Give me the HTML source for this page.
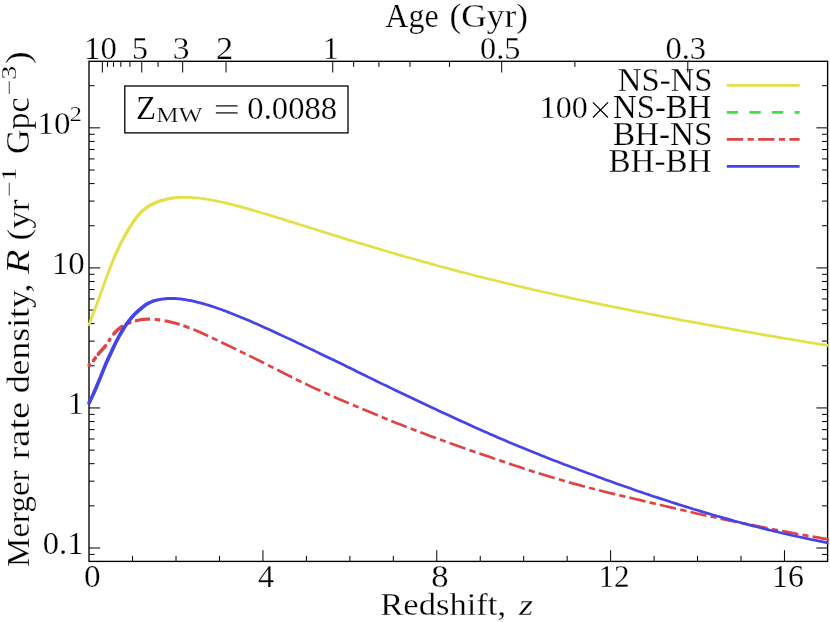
<!DOCTYPE html><html><head><meta charset="utf-8"><title>Merger rate density</title>
<style>html,body{margin:0;padding:0;background:#fff}svg{display:block}text{font-family:'Liberation Serif', serif;fill:#000}</style></head><body>
<svg width="830" height="622" viewBox="0 0 830 622">
<rect width="830" height="622" fill="#fff"/>
<defs><clipPath id="cp"><rect x="87.0" y="61.3" width="742.3" height="500.1"/></clipPath></defs>
<g style="will-change:opacity;opacity:0.999" stroke="#fff" stroke-width="0.25" stroke-linejoin="round">
<text transform="translate(380.33,615.00) scale(1.0699,1)" style="font-family:'Liberation Serif', serif;font-size:32.30px;">Redshift,</text>
<text transform="translate(518.92,615.20) scale(1.2636,1)" style="font-family:'Liberation Serif', serif;font-size:28.80px;font-style:italic;">z</text>
<text transform="translate(385.36,27.00) scale(0.9630,1)" style="font-family:'Liberation Serif', serif;font-size:33.20px;">Age</text>
<text transform="translate(449.50,27.00) scale(1.0643,1)" style="font-family:'Liberation Serif', serif;font-size:33.20px;">(Gyr)</text>
<text transform="translate(84.10,58.80) scale(1.0195,1)" style="font-family:'Liberation Serif', serif;font-size:32.20px;">10</text>
<text transform="translate(131.96,58.80) scale(0.9923,1)" style="font-family:'Liberation Serif', serif;font-size:32.20px;">5</text>
<text transform="translate(172.64,58.80) scale(1.0415,1)" style="font-family:'Liberation Serif', serif;font-size:32.20px;">3</text>
<text transform="translate(216.00,58.80) scale(1.0667,1)" style="font-family:'Liberation Serif', serif;font-size:32.20px;">2</text>
<text transform="translate(322.63,58.80) scale(1.0087,1)" style="font-family:'Liberation Serif', serif;font-size:32.20px;">1</text>
<text transform="translate(480.05,58.80) scale(1.0040,1)" style="font-family:'Liberation Serif', serif;font-size:32.20px;">0.5</text>
<text transform="translate(665.44,58.80) scale(1.0093,1)" style="font-family:'Liberation Serif', serif;font-size:32.20px;">0.3</text>
<text transform="translate(84.01,587.30) scale(1.0327,1)" style="font-family:'Liberation Serif', serif;font-size:32.20px;">0</text>
<text transform="translate(257.90,587.30) scale(1.0000,1)" style="font-family:'Liberation Serif', serif;font-size:32.20px;">4</text>
<text transform="translate(431.15,587.30) scale(1.0764,1)" style="font-family:'Liberation Serif', serif;font-size:32.20px;">8</text>
<text transform="translate(598.54,587.30) scale(0.9658,1)" style="font-family:'Liberation Serif', serif;font-size:32.20px;">12</text>
<text transform="translate(771.98,587.30) scale(0.9895,1)" style="font-family:'Liberation Serif', serif;font-size:32.20px;">16</text>
<text transform="translate(37.38,134.40) scale(1.0265,1)" style="font-family:'Liberation Serif', serif;font-size:32.20px;">10</text>
<text transform="translate(69.87,120.60) scale(1.1294,1)" style="font-family:'Liberation Serif', serif;font-size:21.57px;">2</text>
<text transform="translate(51.69,274.20) scale(1.0230,1)" style="font-family:'Liberation Serif', serif;font-size:32.20px;">10</text>
<text transform="translate(68.05,414.10) scale(0.9652,1)" style="font-family:'Liberation Serif', serif;font-size:32.20px;">1</text>
<text transform="translate(42.73,554.10) scale(1.0135,1)" style="font-family:'Liberation Serif', serif;font-size:32.20px;">0.1</text>
<text transform="translate(617.71,91.30) scale(0.9887,1)" style="font-family:'Liberation Serif', serif;font-size:33.20px;">NS-NS</text>
<text transform="translate(539.77,117.80) scale(0.9944,1)" style="font-family:'Liberation Serif', serif;font-size:32.20px;">100</text>
<path d="M592.9,102.4L608.0,117.5M608.0,102.4L592.9,117.5" stroke="#000" stroke-width="1.25" fill="none"/>
<text transform="translate(613.01,117.80) scale(0.9882,1)" style="font-family:'Liberation Serif', serif;font-size:33.20px;">NS-BH</text>
<text transform="translate(612.90,144.80) scale(1.0000,1)" style="font-family:'Liberation Serif', serif;font-size:33.20px;">BH-NS</text>
<text transform="translate(608.50,172.00) scale(0.9985,1)" style="font-family:'Liberation Serif', serif;font-size:33.20px;">BH-BH</text>
<text transform="translate(136.12,118.60) scale(0.9882,1)" style="font-family:'Liberation Serif', serif;font-size:33.20px;">Z</text>
<text transform="translate(156.32,121.90) scale(1.1519,1)" style="font-family:'Liberation Serif', serif;font-size:21.80px;">MW</text>
<text transform="translate(213.40,121.10) scale(1.4258,1)" style="font-family:'Liberation Serif', serif;font-size:33.20px;">=</text>
<text transform="translate(247.33,118.60) scale(1.0151,1)" style="font-family:'Liberation Serif', serif;font-size:32.20px;">0.0088</text>
<text transform="translate(28.70,566.92) rotate(-90) scale(1.0209,1)" style="font-family:'Liberation Serif', serif;font-size:32.30px;">Merger</text>
<text transform="translate(28.70,459.39) rotate(-90) scale(1.1872,1)" style="font-family:'Liberation Serif', serif;font-size:32.30px;">rate</text>
<text transform="translate(28.70,393.28) rotate(-90) scale(1.1052,1)" style="font-family:'Liberation Serif', serif;font-size:32.30px;">density,</text>
<text transform="translate(28.70,273.90) rotate(-90) scale(1.2150,1)" style="font-family:'Liberation Serif', serif;font-size:33.20px;font-style:italic;">R</text>
<text transform="translate(28.70,240.54) rotate(-90) scale(1.0937,1)" style="font-family:'Liberation Serif', serif;font-size:32.30px;">(yr</text>
<text transform="translate(16.00,196.81) rotate(-90) scale(1.3050,1)" style="font-family:'Liberation Serif', serif;font-size:21.00px;">−1</text>
<text transform="translate(28.70,153.88) rotate(-90) scale(1.0208,1)" style="font-family:'Liberation Serif', serif;font-size:33.20px;">Gpc</text>
<text transform="translate(16.00,95.54) rotate(-90) scale(1.3415,1)" style="font-family:'Liberation Serif', serif;font-size:21.00px;">−3</text>
<text transform="translate(28.70,64.05) rotate(-90) scale(1.1529,1)" style="font-family:'Liberation Serif', serif;font-size:33.20px;">)</text>
</g>
<g fill="none" stroke-width="2.7">
<path d="M726.8,85.4H799.6" stroke="#e4e04a"/>
<path d="M726.8,112.4H799.6" stroke="#40e040" stroke-dasharray="11.3 11.3"/>
<path d="M726.8,139.3H799.6" stroke="#e04444" stroke-dasharray="16.4 4.4 6.2 4.3"/>
<path d="M726.8,166.4H799.6" stroke="#4444e8"/>
</g>
<path d="M89.0,554.41h5.6M827.6,554.41h-5.6M89.0,548.00h11.2M827.6,548.00h-11.2M89.0,505.84h5.6M827.6,505.84h-5.6M89.0,481.18h5.6M827.6,481.18h-5.6M89.0,463.68h5.6M827.6,463.68h-5.6M89.0,450.11h5.6M827.6,450.11h-5.6M89.0,439.02h5.6M827.6,439.02h-5.6M89.0,429.64h5.6M827.6,429.64h-5.6M89.0,421.52h5.6M827.6,421.52h-5.6M89.0,414.36h5.6M827.6,414.36h-5.6M89.0,407.95h11.2M827.6,407.95h-11.2M89.0,365.79h5.6M827.6,365.79h-5.6M89.0,341.13h5.6M827.6,341.13h-5.6M89.0,323.63h5.6M827.6,323.63h-5.6M89.0,310.06h5.6M827.6,310.06h-5.6M89.0,298.97h5.6M827.6,298.97h-5.6M89.0,289.59h5.6M827.6,289.59h-5.6M89.0,281.47h5.6M827.6,281.47h-5.6M89.0,274.31h5.6M827.6,274.31h-5.6M89.0,267.90h11.2M827.6,267.90h-11.2M89.0,225.74h5.6M827.6,225.74h-5.6M89.0,201.08h5.6M827.6,201.08h-5.6M89.0,183.58h5.6M827.6,183.58h-5.6M89.0,170.01h5.6M827.6,170.01h-5.6M89.0,158.92h5.6M827.6,158.92h-5.6M89.0,149.54h5.6M827.6,149.54h-5.6M89.0,141.42h5.6M827.6,141.42h-5.6M89.0,134.26h5.6M827.6,134.26h-5.6M89.0,127.85h11.2M827.6,127.85h-11.2M89.0,85.69h5.6M827.6,85.69h-5.6M132.56,561.4v-5.6M176.02,561.4v-5.6M219.48,561.4v-5.6M262.94,561.4v-11.2M306.40,561.4v-5.6M349.86,561.4v-5.6M393.32,561.4v-5.6M436.78,561.4v-11.2M480.24,561.4v-5.6M523.70,561.4v-5.6M567.16,561.4v-5.6M610.62,561.4v-11.2M654.08,561.4v-5.6M697.54,561.4v-5.6M741.00,561.4v-5.6M784.46,561.4v-11.2M102.37,61.3v11.2M107.49,61.3v5.6M113.54,61.3v5.6M120.83,61.3v5.6M129.93,61.3v5.6M141.75,61.3v11.2M158.06,61.3v5.6M182.68,61.3v11.2M226.02,61.3v11.2M332.74,61.3v11.2M353.68,61.3v5.6M378.90,61.3v5.6M409.97,61.3v5.6M449.45,61.3v5.6M501.69,61.3v11.2M574.88,61.3v5.6M687.80,61.3v11.2" fill="none" stroke="#000" stroke-width="1.00"/>
<rect x="89.0" y="61.3" width="738.6" height="500.1" fill="none" stroke="#000" stroke-width="1.35"/>
<g clip-path="url(#cp)" fill="none" stroke-width="2.7" stroke-linejoin="round">
<path d="M90.4,325.0 L91.4,322.4 L92.4,319.8 L93.4,317.1 L94.4,314.5 L95.4,311.9 L96.4,309.2 L97.4,306.6 L98.4,303.9 L99.4,301.2 L100.4,298.5 L101.4,295.8 L102.4,293.0 L103.4,290.2 L104.4,287.4 L105.4,284.6 L106.4,281.8 L107.4,279.0 L108.4,276.3 L109.4,273.5 L110.4,270.9 L111.4,268.2 L112.5,265.7 L113.5,263.2 L114.5,260.7 L115.5,258.4 L116.5,256.1 L117.5,253.8 L118.5,251.7 L119.5,249.6 L120.5,247.5 L121.5,245.5 L122.5,243.5 L123.5,241.6 L124.5,239.7 L125.5,237.9 L126.5,236.1 L127.5,234.4 L128.5,232.7 L129.5,231.0 L130.5,229.3 L131.5,227.7 L132.5,226.1 L133.5,224.6 L134.5,223.1 L135.5,221.7 L136.5,220.4 L137.5,219.1 L138.5,217.8 L139.4,216.7 L140.4,215.6 L141.4,214.5 L142.3,213.6 L143.3,212.6 L144.3,211.8 L145.2,211.0 L146.2,210.2 L147.1,209.4 L148.1,208.8 L149.1,208.1 L150.0,207.5 L151.0,206.9 L151.9,206.4 L152.9,205.9 L153.9,205.4 L154.8,204.9 L155.8,204.5 L156.8,204.1 L157.7,203.7 L158.7,203.3 L159.7,203.0 L160.6,202.6 L161.6,202.3 L162.6,202.0 L163.6,201.7 L164.5,201.4 L165.5,201.1 L166.5,200.9 L167.4,200.6 L168.4,200.4 L169.4,200.2 L170.4,200.0 L171.3,199.9 L172.3,199.7 L173.3,199.5 L174.3,199.4 L175.3,199.3 L176.2,199.2 L177.2,199.1 L178.2,199.0 L179.2,198.9 L180.2,198.8 L181.2,198.8 L182.1,198.8 L183.1,198.7 L184.1,198.7 L185.1,198.7 L186.1,198.7 L187.1,198.7 L188.1,198.8 L189.0,198.8 L190.0,198.8 L191.0,198.9 L192.0,198.9 L193.0,199.0 L194.0,199.1 L195.0,199.1 L196.0,199.2 L197.0,199.3 L198.0,199.4 L198.9,199.5 L199.9,199.6 L200.9,199.8 L201.9,199.9 L202.9,200.0 L203.9,200.2 L204.9,200.3 L205.9,200.5 L206.9,200.6 L207.9,200.8 L208.9,200.9 L209.9,201.1 L210.9,201.3 L211.9,201.5 L212.8,201.7 L213.8,201.9 L214.8,202.0 L215.8,202.2 L216.8,202.4 L217.8,202.7 L218.8,202.9 L219.8,203.1 L220.8,203.3 L221.8,203.5 L222.8,203.7 L223.8,204.0 L224.8,204.2 L225.8,204.4 L226.8,204.7 L227.8,204.9 L228.8,205.1 L229.4,202.5 L228.4,202.3 L227.4,202.0 L226.4,201.8 L225.4,201.6 L224.4,201.3 L223.4,201.1 L222.4,200.9 L221.4,200.7 L220.4,200.4 L219.4,200.2 L218.4,200.0 L217.4,199.8 L216.4,199.6 L215.4,199.4 L214.4,199.2 L213.4,199.0 L212.3,198.8 L211.3,198.6 L210.3,198.5 L209.3,198.3 L208.3,198.1 L207.3,198.0 L206.3,197.8 L205.3,197.6 L204.3,197.5 L203.3,197.3 L202.3,197.2 L201.3,197.1 L200.3,197.0 L199.3,196.8 L198.2,196.7 L197.2,196.6 L196.2,196.5 L195.2,196.4 L194.2,196.3 L193.2,196.2 L192.2,196.2 L191.2,196.1 L190.2,196.0 L189.2,196.0 L188.1,195.9 L187.1,195.9 L186.1,195.9 L185.1,195.9 L184.1,195.9 L183.1,195.9 L182.1,195.9 L181.0,195.9 L180.0,196.0 L179.0,196.0 L178.0,196.0 L177.0,196.1 L176.0,196.2 L174.9,196.3 L173.9,196.4 L172.9,196.5 L171.9,196.6 L170.9,196.8 L169.8,196.9 L168.8,197.1 L167.8,197.3 L166.8,197.5 L165.7,197.7 L164.7,197.9 L163.7,198.2 L162.6,198.4 L161.6,198.7 L160.6,199.0 L159.6,199.3 L158.5,199.7 L157.5,200.0 L156.5,200.4 L155.4,200.8 L154.4,201.3 L153.4,201.8 L152.3,202.2 L151.3,202.8 L150.3,203.3 L149.2,203.9 L148.2,204.5 L147.1,205.2 L146.1,205.9 L145.1,206.6 L144.0,207.4 L143.0,208.3 L141.9,209.1 L140.9,210.1 L139.9,211.1 L138.8,212.1 L137.8,213.2 L136.8,214.4 L135.7,215.6 L134.7,216.9 L133.7,218.3 L132.7,219.7 L131.7,221.2 L130.7,222.7 L129.7,224.3 L128.7,225.9 L127.7,227.6 L126.7,229.3 L125.7,231.0 L124.7,232.7 L123.7,234.5 L122.7,236.3 L121.7,238.2 L120.7,240.1 L119.7,242.1 L118.7,244.1 L117.7,246.1 L116.7,248.2 L115.7,250.4 L114.7,252.6 L113.7,254.9 L112.7,257.2 L111.7,259.6 L110.7,262.1 L109.7,264.6 L108.8,267.2 L107.8,269.9 L106.8,272.6 L105.8,275.3 L104.8,278.1 L103.8,280.9 L102.8,283.7 L101.8,286.5 L100.8,289.3 L99.8,292.1 L98.8,294.8 L97.8,297.6 L96.8,300.3 L95.8,303.0 L94.8,305.6 L93.8,308.3 L92.8,310.9 L91.8,313.6 L90.8,316.2 L89.8,318.8 L88.8,321.4 L87.8,324.0Z" fill="#e4e04a" stroke="none"/>
<circle cx="89.1" cy="324.5" r="1.55" fill="#e4e04a"/>
<path d="M228.0,203.6 L231.6,204.4 L235.3,205.4 L239.0,206.4 L242.7,207.4 L246.4,208.4 L250.1,209.4 L253.8,210.5 L257.5,211.6 L261.2,212.7 L264.9,213.8 L268.6,214.9 L272.3,216.0 L276.0,217.1 L279.7,218.3 L283.3,219.4 L287.0,220.6 L290.7,221.7 L294.4,222.9 L298.1,224.0 L301.8,225.2 L305.5,226.4 L309.2,227.5 L312.9,228.7 L316.6,229.8 L320.3,231.0 L324.0,232.2 L327.7,233.3 L331.4,234.5 L335.1,235.6 L338.8,236.8 L342.5,237.9 L346.2,239.1 L349.9,240.2 L353.6,241.3 L357.3,242.5 L361.0,243.6 L364.7,244.7 L368.4,245.8 L372.1,246.9 L375.8,248.0 L379.5,249.1 L383.2,250.2 L386.9,251.3 L390.6,252.4 L394.3,253.5 L398.0,254.6 L401.7,255.6 L405.4,256.7 L409.1,257.7 L412.8,258.8 L416.5,259.8 L420.2,260.9 L423.9,261.9 L427.6,262.9 L431.3,263.9 L435.0,265.0 L438.6,266.0 L442.3,267.0 L446.0,268.0 L449.7,268.9 L453.4,269.9 L457.1,270.9 L460.8,271.9 L464.5,272.8 L468.2,273.8 L471.9,274.7 L475.6,275.7 L479.3,276.6 L483.0,277.6 L486.7,278.5 L490.4,279.4 L494.1,280.3 L497.8,281.2 L501.5,282.1 L505.2,283.0 L508.9,283.9 L512.6,284.8 L516.3,285.7 L520.0,286.5 L523.7,287.4 L527.4,288.3 L531.1,289.1 L534.8,290.0 L538.5,290.8 L542.2,291.7 L545.9,292.5 L549.6,293.3 L553.3,294.1 L557.0,295.0 L560.7,295.8 L564.4,296.6 L568.1,297.4 L571.8,298.2 L575.5,299.0 L579.2,299.8 L582.9,300.5 L586.6,301.3 L590.3,302.1 L593.9,302.9 L597.6,303.6 L601.3,304.4 L605.0,305.2 L608.7,305.9 L612.4,306.7 L616.1,307.4 L619.8,308.1 L623.5,308.9 L627.2,309.6 L630.9,310.4 L634.6,311.1 L638.3,311.8 L642.0,312.5 L645.7,313.3 L649.4,314.0 L653.1,314.7 L656.8,315.4 L660.5,316.1 L664.2,316.8 L667.9,317.5 L671.6,318.2 L675.3,318.9 L679.0,319.6 L682.7,320.3 L686.4,321.0 L690.1,321.6 L693.8,322.3 L697.5,323.0 L701.2,323.7 L704.9,324.4 L708.6,325.0 L712.3,325.7 L716.0,326.4 L719.7,327.0 L723.4,327.7 L727.1,328.3 L730.8,329.0 L734.5,329.7 L738.2,330.3 L741.9,331.0 L745.6,331.6 L749.2,332.2 L752.9,332.9 L756.6,333.5 L760.3,334.2 L764.0,334.8 L767.7,335.4 L771.4,336.1 L775.1,336.7 L778.8,337.3 L782.5,338.0 L786.2,338.6 L789.9,339.2 L793.6,339.8 L797.3,340.4 L801.0,341.1 L804.7,341.7 L808.4,342.3 L812.1,342.9 L815.8,343.5 L819.5,344.1 L823.2,344.7 L826.9,345.3 L828.5,345.6" stroke="#e4e04a"/>
<circle cx="89.3" cy="365.0" r="2.0" fill="#e04444"/>
<path d="M93.5,360.4 L93.9,359.8 L94.4,359.2 L94.9,358.5 L95.3,357.9" stroke="#e04444" stroke-width="3.60" stroke-linecap="round"/>
<path d="M98.3,354.1 L98.8,353.5 L99.3,352.9 L99.8,352.3 L100.3,351.8 L100.8,351.2 L101.3,350.7 L101.8,350.1 L102.3,349.6 L102.8,349.0 L103.3,348.4 L103.8,347.9 L104.3,347.3 L104.8,346.7 L105.2,346.1 L105.5,345.8" stroke="#e04444" stroke-width="3.60" stroke-linecap="round"/>
<path d="M109.2,340.4 L109.7,339.7 L109.8,339.5" stroke="#e04444" stroke-width="3.60" stroke-linecap="round"/>
<path d="M113.8,333.9 L114.2,333.4 L114.7,332.8 L115.2,332.2 L115.7,331.7 L116.2,331.2 L116.7,330.7 L117.2,330.3 L117.7,329.8 L118.2,329.4 L118.7,329.0 L119.2,328.6 L119.7,328.2 L120.2,327.8 L120.7,327.5 L121.1,327.1 L121.6,326.8 L121.9,326.6" stroke="#e04444" stroke-width="3.60" stroke-linecap="round"/>
<path d="M129.2,323.0 L129.7,322.8 L130.0,322.7" stroke="#e04444" stroke-width="3.48" stroke-linecap="round"/>
<path d="M135.0,321.0 L135.4,320.9 L135.9,320.8 L136.4,320.7 L136.9,320.5 L137.4,320.4 L137.9,320.3 L138.4,320.2 L138.9,320.1 L139.4,320.0 L139.9,319.9 L140.4,319.8 L140.9,319.7 L141.4,319.6 L141.9,319.6 L142.3,319.5 L142.8,319.5 L143.3,319.4 L143.8,319.4 L144.3,319.3 L144.8,319.3 L145.3,319.3 L145.8,319.2 L146.3,319.2 L146.8,319.2 L147.3,319.2 L147.8,319.2 L148.3,319.2 L148.8,319.2 L149.2,319.2 L149.7,319.2 L150.1,319.2" stroke="#e04444" stroke-width="3.19"/>
<path d="M154.7,319.4 L155.2,319.4 L155.7,319.5 L156.2,319.5 L156.6,319.6 L157.1,319.6 L157.6,319.7 L158.1,319.7 L158.6,319.8 L159.1,319.9 L159.6,319.9 L160.1,320.0 L160.2,320.0" stroke="#e04444" stroke-width="3.11"/>
<path d="M164.6,320.7 L165.0,320.8 L165.5,320.9 L166.0,321.0 L166.5,321.1 L167.0,321.2 L167.5,321.3 L168.0,321.4 L168.5,321.5 L169.0,321.6 L169.5,321.7 L170.0,321.8 L170.4,321.9 L170.9,322.1 L171.4,322.2 L171.9,322.3 L172.4,322.4 L172.9,322.6 L173.4,322.7 L173.9,322.8 L174.4,323.0 L174.9,323.1 L175.4,323.2 L175.9,323.4 L176.4,323.5 L176.9,323.7 L177.3,323.8 L177.8,323.9 L178.3,324.1 L178.8,324.2 L179.3,324.4 L179.7,324.5" stroke="#e04444" stroke-width="3.02"/>
<path d="M183.4,325.7 L183.9,325.9 L184.4,326.1 L184.9,326.2 L185.4,326.4 L185.9,326.6 L186.3,326.8 L186.8,326.9 L187.3,327.1 L187.8,327.3 L188.3,327.5 L188.8,327.7 L189.3,327.9 L189.5,327.9" stroke="#e04444" stroke-width="2.92"/>
<path d="M193.5,329.5 L194.5,329.9 L195.5,330.3 L196.5,330.7 L197.4,331.1 L198.4,331.6 L199.4,332.0 L200.4,332.4 L201.4,332.9 L202.4,333.3 L203.4,333.8 L204.3,334.2 L205.3,334.6 L206.3,335.1 L207.3,335.6 L208.2,336.0" stroke="#e04444" stroke-width="2.81"/>
<path d="M212.0,337.8 L216.9,340.1 L217.5,340.4M221.2,342.2 L226.0,344.5 L231.0,346.9 L235.9,349.3 L236.1,349.4M239.9,351.2 L244.8,353.6 L245.5,353.9M249.2,355.7 L254.0,358.1 L258.9,360.5 L263.9,363.0 L264.1,363.1M267.9,365.1 L272.7,367.5 L273.5,367.9M277.2,369.8 L282.1,372.3 L287.0,374.8 L292.0,377.3 L292.1,377.3M295.9,379.2 L300.7,381.6 L301.5,382.0M305.2,383.7 L310.1,386.1 L315.0,388.4 L320.0,390.6 L320.3,390.8M324.2,392.6 L329.1,394.7 L329.9,395.1M333.7,396.8 L338.6,398.9 L343.5,401.0 L348.4,403.1 L348.9,403.3M352.9,405.0 L357.8,407.0 L358.6,407.3M362.4,408.9 L367.3,411.0 L372.2,413.1 L377.1,415.1 L377.8,415.4M381.7,417.0 L386.6,419.0 L387.5,419.4M391.3,420.9 L396.1,422.9 L401.1,424.8 L406.0,426.7 L406.7,427.0M410.7,428.5 L415.6,430.4 L416.5,430.7M420.3,432.2 L425.2,434.0 L430.1,435.9 L435.1,437.7 L435.9,438.0M439.9,439.5 L444.7,441.2 L445.7,441.6M449.6,443.1 L454.4,444.8 L459.4,446.6 L464.3,448.3 L465.4,448.7M469.5,450.1 L474.4,451.8 L475.5,452.2M479.4,453.5 L484.3,455.1 L489.2,456.8 L494.1,458.5 L495.1,458.8M499.2,460.2 L504.1,461.9 L505.1,462.3M509.0,463.6 L513.8,465.2 L518.8,466.8 L523.7,468.5 L524.8,468.8M528.8,470.1 L533.7,471.7 L534.8,472.0M538.7,473.2 L543.5,474.7 L548.5,476.3 L553.4,477.7 L554.7,478.1M558.8,479.3 L563.6,480.7 L564.8,481.1M568.8,482.2 L573.6,483.6 L578.5,484.9 L583.5,486.2 L584.9,486.6M589.0,487.7 L593.8,489.0 L595.0,489.3M599.0,490.3 L603.8,491.5 L608.7,492.7 L613.7,493.9 L615.2,494.3M619.3,495.2 L624.1,496.4 L625.4,496.7M629.4,497.6 L634.3,498.7 L639.2,499.9 L644.1,501.1 L645.6,501.4M649.7,502.4 L654.6,503.6 L655.8,503.9M659.8,504.8 L664.7,506.0 L669.6,507.1 L674.6,508.3 L676.1,508.6M680.3,509.6 L685.2,510.7 L686.5,511.1M690.5,512.0 L695.4,513.2 L700.3,514.3 L705.2,515.4 L706.4,515.6M710.5,516.5 L715.4,517.5 L716.6,517.8M720.5,518.6 L725.3,519.6 L730.3,520.6 L735.2,521.7 L736.8,522.0M741.0,522.9 L745.9,523.9 L747.2,524.1M751.2,524.9 L756.0,525.9 L761.0,526.9 L765.9,527.9 L767.6,528.2M771.8,529.0 L776.7,530.0 L778.1,530.2M782.1,531.0 L787.0,531.9 L791.9,532.8 L796.8,533.8 L798.3,534.0M802.5,534.8 L807.3,535.7 L808.6,535.9M812.6,536.6 L817.4,537.4 L822.3,538.3 L827.3,539.2 L828.9,539.4" stroke="#e04444"/>
<path d="M90.7,403.8 L91.7,401.7 L92.7,399.6 L93.7,397.5 L94.7,395.2 L95.8,393.0 L96.8,390.7 L97.8,388.4 L98.8,386.0 L99.8,383.6 L100.8,381.2 L101.8,378.7 L102.8,376.3 L103.8,373.7 L104.8,371.2 L105.8,368.8 L106.8,366.4 L107.8,364.1 L108.8,361.8 L109.8,359.7 L110.8,357.5 L111.8,355.4 L112.8,353.2 L113.8,351.0 L114.8,348.9 L115.8,346.8 L116.7,344.8 L117.7,342.8 L118.7,340.9 L119.7,339.0 L120.7,337.1 L121.7,335.4 L122.7,333.7 L123.7,332.0 L124.7,330.4 L125.7,328.8 L126.6,327.3 L127.6,325.8 L128.6,324.4 L129.6,323.1 L130.6,321.8 L131.5,320.6 L132.5,319.4 L133.5,318.2 L134.5,317.2 L135.4,316.1 L136.4,315.1 L137.4,314.2 L138.4,313.3 L139.3,312.4 L140.3,311.5 L141.3,310.7 L142.3,309.9 L143.3,309.1 L144.2,308.3 L145.2,307.5 L146.2,306.8 L147.1,306.1 L148.0,305.5 L149.0,305.0 L149.9,304.5 L150.8,304.0 L151.8,303.6 L152.7,303.1 L153.6,302.8 L154.6,302.5 L155.5,302.1 L156.5,301.9 L157.5,301.6 L158.4,301.4 L159.4,301.1 L160.4,300.9 L161.3,300.8 L162.3,300.6 L163.3,300.5 L164.3,300.4 L165.2,300.3 L166.2,300.2 L167.2,300.1 L168.2,300.0 L169.2,300.0 L170.1,300.0 L171.1,299.9 L172.1,299.9 L173.1,300.0 L174.0,300.0 L175.0,300.0 L176.0,300.1 L177.0,300.1 L178.0,300.2 L179.0,300.3 L179.9,300.4 L180.9,300.5 L181.9,300.6 L182.9,300.8 L183.9,300.9 L184.9,301.0 L185.9,301.2 L186.9,301.4 L187.8,301.5 L188.8,301.7 L189.8,301.9 L190.8,302.1 L191.8,302.3 L192.8,302.5 L193.8,302.7 L194.8,303.0 L195.8,303.2 L196.8,303.4 L197.8,303.7 L198.7,303.9 L199.7,304.2 L200.7,304.5 L201.7,304.7 L202.7,305.0 L203.7,305.3 L204.7,305.6 L205.7,305.9 L206.7,306.1 L207.7,306.4 L208.7,306.8 L209.7,307.1 L210.7,307.4 L211.7,307.7 L212.7,308.0 L213.7,308.3 L214.7,308.7 L215.7,309.0 L216.7,309.4 L217.7,309.7 L218.7,310.1 L219.6,310.4 L220.6,310.8 L221.6,311.1 L222.6,311.5 L223.6,311.9 L224.6,312.2 L225.6,312.6 L226.6,313.0 L227.6,313.4 L228.6,313.7 L229.6,311.2 L228.6,310.8 L227.6,310.5 L226.6,310.1 L225.6,309.7 L224.6,309.3 L223.6,309.0 L222.6,308.6 L221.6,308.2 L220.6,307.9 L219.5,307.5 L218.5,307.2 L217.5,306.8 L216.5,306.5 L215.5,306.1 L214.5,305.8 L213.5,305.4 L212.5,305.1 L211.5,304.8 L210.5,304.5 L209.5,304.1 L208.5,303.8 L207.5,303.5 L206.5,303.2 L205.5,302.9 L204.5,302.6 L203.5,302.3 L202.5,302.0 L201.5,301.8 L200.5,301.5 L199.5,301.2 L198.4,301.0 L197.4,300.7 L196.4,300.5 L195.4,300.2 L194.4,300.0 L193.4,299.7 L192.4,299.5 L191.4,299.3 L190.4,299.1 L189.4,298.9 L188.4,298.7 L187.3,298.5 L186.3,298.4 L185.3,298.2 L184.3,298.0 L183.3,297.9 L182.3,297.8 L181.3,297.6 L180.3,297.5 L179.2,297.4 L178.2,297.3 L177.2,297.2 L176.2,297.2 L175.2,297.1 L174.2,297.1 L173.1,297.0 L172.1,297.0 L171.1,297.0 L170.1,297.0 L169.0,297.0 L168.0,297.1 L167.0,297.1 L166.0,297.2 L165.0,297.3 L163.9,297.4 L162.9,297.5 L161.9,297.7 L160.9,297.8 L159.8,298.0 L158.8,298.2 L157.8,298.3 L156.7,298.6 L155.7,298.8 L154.7,299.0 L153.6,299.3 L152.6,299.6 L151.5,300.0 L150.4,300.4 L149.4,300.8 L148.3,301.3 L147.2,301.9 L146.2,302.5 L145.1,303.1 L144.0,303.8 L143.0,304.6 L142.0,305.4 L140.9,306.2 L139.9,307.0 L138.9,307.9 L137.9,308.7 L136.9,309.6 L135.8,310.5 L134.8,311.5 L133.8,312.5 L132.8,313.5 L131.7,314.7 L130.7,315.8 L129.7,317.0 L128.7,318.2 L127.6,319.5 L126.6,320.9 L125.6,322.3 L124.6,323.7 L123.6,325.2 L122.5,326.8 L121.5,328.4 L120.5,330.1 L119.5,331.8 L118.5,333.6 L117.5,335.4 L116.5,337.3 L115.5,339.2 L114.5,341.1 L113.5,343.2 L112.4,345.2 L111.4,347.3 L110.4,349.5 L109.4,351.7 L108.4,353.8 L107.4,356.0 L106.4,358.1 L105.4,360.3 L104.4,362.6 L103.4,365.0 L102.4,367.4 L101.4,369.9 L100.4,372.4 L99.4,374.9 L98.4,377.4 L97.4,379.8 L96.4,382.3 L95.4,384.6 L94.4,387.0 L93.4,389.3 L92.4,391.5 L91.5,393.8 L90.5,396.0 L89.5,398.1 L88.5,400.2 L87.5,402.3Z" fill="#4444e8" stroke="none"/>
<circle cx="89.1" cy="403.0" r="1.95" fill="#4444e8"/>
<path d="M228.0,312.1 L231.6,313.5 L235.3,314.9 L239.0,316.4 L242.7,318.0 L246.4,319.5 L250.1,321.1 L253.8,322.7 L257.5,324.3 L261.2,326.0 L264.9,327.7 L268.6,329.3 L272.3,331.0 L276.0,332.7 L279.7,334.4 L283.3,336.1 L287.0,337.9 L290.7,339.6 L294.4,341.3 L298.1,343.1 L301.8,344.8 L305.5,346.6 L309.2,348.4 L312.9,350.1 L316.6,351.9 L320.3,353.7 L324.0,355.4 L327.7,357.2 L331.4,359.0 L335.1,360.8 L338.8,362.5 L342.5,364.3 L346.2,366.2 L349.9,368.0 L353.6,369.8 L357.3,371.7 L361.0,373.5 L364.7,375.3 L368.4,377.1 L372.1,378.9 L375.8,380.8 L379.5,382.6 L383.2,384.4 L386.9,386.1 L390.6,387.9 L394.3,389.7 L398.0,391.4 L401.7,393.2 L405.4,395.0 L409.1,396.7 L412.8,398.5 L416.5,400.2 L420.2,402.0 L423.9,403.7 L427.6,405.4 L431.3,407.2 L435.0,408.9 L438.6,410.7 L442.3,412.4 L446.0,414.1 L449.7,415.8 L453.4,417.5 L457.1,419.2 L460.8,420.9 L464.5,422.6 L468.2,424.3 L471.9,426.0 L475.6,427.7 L479.3,429.3 L483.0,430.9 L486.7,432.6 L490.4,434.2 L494.1,435.8 L497.8,437.4 L501.5,439.0 L505.2,440.6 L508.9,442.2 L512.6,443.7 L516.3,445.3 L520.0,446.8 L523.7,448.3 L527.4,449.8 L531.1,451.3 L534.8,452.8 L538.5,454.3 L542.2,455.8 L545.9,457.3 L549.6,458.7 L553.3,460.2 L557.0,461.6 L560.7,463.1 L564.4,464.5 L568.1,465.8 L571.8,467.2 L575.5,468.6 L579.2,470.0 L582.9,471.3 L586.6,472.7 L590.3,474.0 L593.9,475.3 L597.6,476.7 L601.3,478.0 L605.0,479.4 L608.7,480.7 L612.4,482.0 L616.1,483.4 L619.8,484.7 L623.5,486.0 L627.2,487.3 L630.9,488.6 L634.6,489.9 L638.3,491.2 L642.0,492.4 L645.7,493.7 L649.4,494.9 L653.1,496.2 L656.8,497.4 L660.5,498.6 L664.2,499.8 L667.9,501.0 L671.6,502.2 L675.3,503.4 L679.0,504.6 L682.7,505.7 L686.4,506.9 L690.1,508.0 L693.8,509.2 L697.5,510.3 L701.2,511.4 L704.9,512.5 L708.6,513.6 L712.3,514.7 L716.0,515.8 L719.7,516.8 L723.4,517.9 L727.1,518.9 L730.8,519.9 L734.5,521.0 L738.2,522.0 L741.9,523.0 L745.6,523.9 L749.2,524.9 L752.9,525.9 L756.6,526.8 L760.3,527.8 L764.0,528.7 L767.7,529.6 L771.4,530.5 L775.1,531.4 L778.8,532.3 L782.5,533.2 L786.2,534.0 L789.9,534.9 L793.6,535.7 L797.3,536.5 L801.0,537.3 L804.7,538.1 L808.4,538.9 L812.1,539.7 L815.8,540.4 L819.5,541.2 L823.2,541.9 L826.9,542.6 L828.5,542.9" stroke="#4444e8"/>
</g>
<rect x="124.8" y="86.0" width="223.2" height="46.9" fill="none" stroke="#000" stroke-width="1.3"/>
</svg></body></html>
